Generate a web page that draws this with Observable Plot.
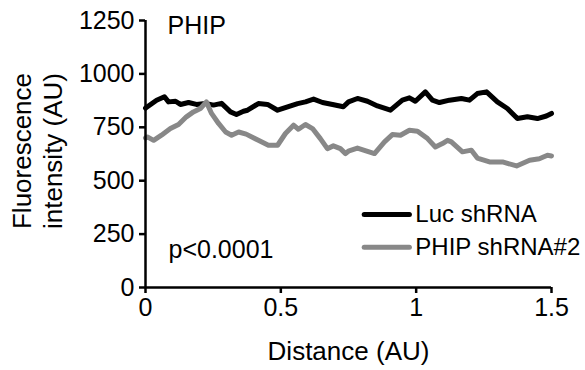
<!DOCTYPE html>
<html>
<head>
<meta charset="utf-8">
<script src="https://cdn.jsdelivr.net/npm/d3@7"></script>
<script src="https://cdn.jsdelivr.net/npm/@observablehq/plot@0.6"></script>
<style>
  html, body { margin: 0; padding: 0; background: white; }
</style>
</head>
<body>
<div id="chart"></div>
<script>
// Luc shRNA (black)
const lucDist = [0, 0.007, 0.041, 0.070, 0.085, 0.111, 0.129, 0.159, 0.188, 0.222, 0.251, 0.281, 0.314, 0.336, 0.362, 0.377, 0.417, 0.451, 0.488, 0.525, 0.562, 0.591, 0.621, 0.654, 0.691, 0.731, 0.750, 0.783, 0.820, 0.857, 0.905, 0.949, 0.975, 0.997, 1.034, 1.060, 1.086, 1.123, 1.167, 1.197, 1.226, 1.260, 1.300, 1.337, 1.374, 1.411, 1.448, 1.481, 1.500];
const lucValues = [840, 846, 877, 893, 869, 872, 857, 866, 857, 862, 854, 862, 822, 810, 825, 830, 861, 857, 830, 846, 861, 869, 882, 866, 857, 846, 869, 885, 872, 850, 830, 877, 888, 872, 916, 877, 866, 877, 885, 877, 908, 916, 869, 838, 791, 799, 791, 803, 815];

// PHIP shRNA#2 (gray)
const phipDist = [0, 0.007, 0.030, 0.059, 0.092, 0.122, 0.151, 0.177, 0.203, 0.225, 0.244, 0.270, 0.296, 0.318, 0.344, 0.372, 0.417, 0.454, 0.488, 0.517, 0.547, 0.565, 0.591, 0.617, 0.646, 0.672, 0.694, 0.720, 0.739, 0.752, 0.783, 0.846, 0.883, 0.912, 0.942, 0.975, 1.005, 1.042, 1.071, 1.097, 1.116, 1.130, 1.171, 1.204, 1.226, 1.271, 1.319, 1.371, 1.419, 1.455, 1.485, 1.500];
const phipValues = [700, 705, 689, 713, 744, 763, 799, 822, 838, 869, 815, 768, 728, 713, 728, 718, 689, 666, 666, 721, 760, 741, 763, 744, 697, 650, 663, 650, 627, 640, 653, 627, 682, 716, 713, 736, 732, 697, 658, 674, 689, 682, 635, 643, 606, 588, 588, 569, 596, 603, 619, 616];

const seriesNames = ["Luc shRNA", "PHIP shRNA#2"];
const seriesColors = ["#000000", "#888888"];
const xTicks = [0, 0.5, 1, 1.5];
const yTicks = [0, 250, 500, 750, 1000, 1250];
const yLabelLines = ["Fluorescence", "intensity (AU)"];
const xLabel = "Distance (AU)";
const titleText = "PHIP";
const pText = "p<0.0001";

const rows = [
  ...lucDist.map((d, i) => ({series: seriesNames[0], x: d, y: lucValues[i]})),
  ...phipDist.map((d, i) => ({series: seriesNames[1], x: d, y: phipValues[i]}))
];

// legend entries placed in data units
const legend = seriesNames.map((s, i) => ({
  label: s, color: seriesColors[i],
  x1: 0.808, x2: 0.975, xt: 0.997, y: i === 0 ? 342 : 188
}));

const FONT = "'Liberation Sans', Arial, sans-serif";

const chart = Plot.plot({
  width: 585,
  height: 370,
  marginLeft: 145,
  marginRight: 34,
  marginTop: 20,
  marginBottom: 83,
  style: {fontFamily: FONT, fontSize: "25px", background: "white", color: "black"},
  x: {domain: [0, 1.5]},
  y: {domain: [0, 1250]},
  marks: [
    Plot.line(rows, {x: "x", y: "y", z: "series", stroke: d => d.series === seriesNames[0] ? seriesColors[0] : seriesColors[1], strokeWidth: 5, strokeLinejoin: "round", strokeLinecap: "round"}),
    Plot.ruleX([0], {strokeWidth: 2.5, stroke: "black"}),
    Plot.ruleY([0], {strokeWidth: 2.5, stroke: "black"}),
    Plot.axisY({ticks: yTicks, tickSize: 6, tickPadding: 5, strokeWidth: 2.5, fontSize: 25, label: null, tickFormat: d => String(d)}),
    Plot.axisX({ticks: xTicks, tickSize: 6, tickPadding: 5, strokeWidth: 2.5, fontSize: 25, label: null, tickFormat: d => String(d)}),
    Plot.text([xLabel], {frameAnchor: "bottom", dy: 64, fontSize: 26, lineAnchor: "middle", text: d => d}),
    Plot.text([yLabelLines[0]], {frameAnchor: "left", rotate: -90, dx: -123, dy: -3, fontSize: 26, textAnchor: "middle", lineAnchor: "middle", text: d => d}),
    Plot.text([yLabelLines[1]], {frameAnchor: "left", rotate: -90, dx: -92, dy: -3, fontSize: 26, textAnchor: "middle", lineAnchor: "middle", text: d => d}),
    Plot.text([titleText], {frameAnchor: "top-left", dx: 22, dy: -4, fontSize: 25, textAnchor: "start", lineAnchor: "top", text: d => d}),
    Plot.text([pText], {frameAnchor: "top-left", dx: 23, dy: 220, fontSize: 25, textAnchor: "start", lineAnchor: "top", text: d => d}),
    Plot.link(legend, {x1: "x1", x2: "x2", y1: "y", y2: "y", stroke: "color", strokeWidth: 5, strokeLinecap: "round"}),
    Plot.text(legend, {x: "xt", y: "y", text: "label", textAnchor: "start", lineAnchor: "middle", fontSize: 24, fill: "black"})
  ]
});
document.getElementById("chart").appendChild(chart);
</script>
</body>
</html>
